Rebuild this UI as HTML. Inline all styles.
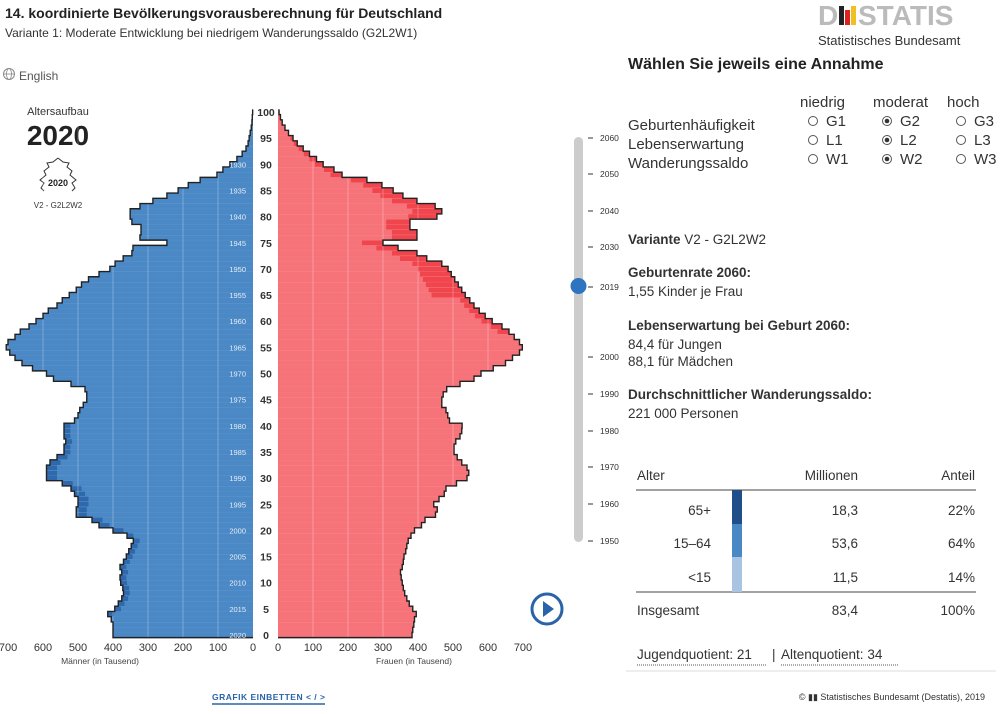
<!DOCTYPE html>
<html><head><meta charset="utf-8"><style>
body{margin:0;background:#fff;width:1000px;height:714px;overflow:hidden;font-family:"Liberation Sans",sans-serif;color:#222}
svg{position:absolute;left:0;top:0}
</style></head><body>
<svg id="s" width="1000" height="714" xmlns="http://www.w3.org/2000/svg" font-family="Liberation Sans, sans-serif">
<text x="5" y="18" font-size="14" font-weight="bold" fill="#222">14. koordinierte Bevölkerungsvorausberechnung für Deutschland</text>
<text x="5" y="37" font-size="12" fill="#333">Variante 1: Moderate Entwicklung bei niedrigem Wanderungssaldo (G2L2W1)</text>
<circle cx="9" cy="74" r="5.5" fill="none" stroke="#888" stroke-width="1"/><ellipse cx="9" cy="74" rx="2.5" ry="5.5" fill="none" stroke="#888" stroke-width="0.8"/><line x1="3.5" y1="74" x2="14.5" y2="74" stroke="#888" stroke-width="0.8"/>
<text x="19" y="80" font-size="12" fill="#555">English</text>
<text x="818" y="25" font-size="28" font-weight="bold" fill="#bbb">D</text>
<rect x="839" y="6" width="5" height="19" fill="#222"/><rect x="845" y="10" width="5" height="15" fill="#d22"/><rect x="851" y="6" width="5" height="19" fill="#f0c020"/>
<text x="858" y="25" font-size="28" font-weight="bold" fill="#bbb">STATIS</text>
<text x="818" y="45" font-size="13" fill="#333">Statistisches Bundesamt</text>
<text x="628" y="69" font-size="16" font-weight="bold" fill="#222">Wählen Sie jeweils eine Annahme</text>
<g font-size="15" fill="#333">
<text x="800" y="107">niedrig</text><text x="873" y="107">moderat</text><text x="947" y="107">hoch</text>
<text x="628" y="130">Geburtenhäufigkeit</text><text x="628" y="149">Lebenserwartung</text><text x="628" y="168">Wanderungssaldo</text>
<text x="826" y="126">G1</text><text x="900" y="126">G2</text><text x="974" y="126">G3</text>
<text x="826" y="145">L1</text><text x="900" y="145">L2</text><text x="974" y="145">L3</text>
<text x="826" y="164">W1</text><text x="900" y="164">W2</text><text x="974" y="164">W3</text>
</g>
<g fill="none" stroke="#555" stroke-width="1">
<circle cx="813" cy="121" r="4.5"/><circle cx="887" cy="121" r="4.5"/><circle cx="961" cy="121" r="4.5"/>
<circle cx="813" cy="140" r="4.5"/><circle cx="887" cy="140" r="4.5"/><circle cx="961" cy="140" r="4.5"/>
<circle cx="813" cy="159" r="4.5"/><circle cx="887" cy="159" r="4.5"/><circle cx="961" cy="159" r="4.5"/>
</g>
<circle cx="887" cy="121" r="2.3" fill="#333"/><circle cx="887" cy="140" r="2.3" fill="#333"/><circle cx="887" cy="159" r="2.3" fill="#333"/>
<g font-size="13.5" fill="#333">
<text x="628" y="244"><tspan font-weight="bold">Variante</tspan>   V2 - G2L2W2</text>
<text x="628" y="277" font-weight="bold">Geburtenrate 2060:</text><text x="628" y="296">1,55 Kinder je Frau</text>
<text x="628" y="330" font-weight="bold">Lebenserwartung bei Geburt 2060:</text><text x="628" y="349">84,4 für Jungen</text><text x="628" y="366">88,1 für Mädchen</text>
<text x="628" y="399" font-weight="bold">Durchschnittlicher Wanderungssaldo:</text><text x="628" y="418">221 000 Personen</text>
<text x="637" y="480">Alter</text><text x="858" y="480" text-anchor="end">Millionen</text><text x="975" y="480" text-anchor="end">Anteil</text>
<text x="711" y="515" text-anchor="end">65+</text><text x="858" y="515" text-anchor="end">18,3</text><text x="975" y="515" text-anchor="end">22%</text>
<text x="711" y="548" text-anchor="end">15–64</text><text x="858" y="548" text-anchor="end">53,6</text><text x="975" y="548" text-anchor="end">64%</text>
<text x="711" y="582" text-anchor="end">&lt;15</text><text x="858" y="582" text-anchor="end">11,5</text><text x="975" y="582" text-anchor="end">14%</text>
<text x="637" y="615">Insgesamt</text><text x="858" y="615" text-anchor="end">83,4</text><text x="975" y="615" text-anchor="end">100%</text>
<text x="637" y="659">Jugendquotient: 21</text><text x="772" y="659">|</text><text x="781" y="659">Altenquotient: 34</text>
</g>
<line x1="636" y1="490" x2="976" y2="490" stroke="#444" stroke-width="1"/>
<line x1="636" y1="592" x2="976" y2="592" stroke="#444" stroke-width="1"/>
<rect x="732" y="490" width="10" height="34" fill="#1f4e89"/><rect x="732" y="524" width="10" height="33" fill="#4a87c5"/><rect x="732" y="557" width="10" height="35" fill="#a9c4e2"/>
<line x1="637" y1="665" x2="767" y2="665" stroke="#555" stroke-dasharray="1,1"/><line x1="781" y1="665" x2="899" y2="665" stroke="#555" stroke-dasharray="1,1"/>
<line x1="626" y1="671" x2="996" y2="671" stroke="#ddd"/>
<text x="985" y="700" font-size="9" fill="#333" text-anchor="end">© ▮▮ Statistisches Bundesamt (Destatis), 2019</text>
<text x="212" y="700" font-size="8.5" font-weight="bold" fill="#2a63a8" letter-spacing="0.5">GRAFIK EINBETTEN &lt; / &gt;</text>
<line x1="212" y1="704" x2="325" y2="704" stroke="#2a63a8" stroke-width="1.5"/>
<circle cx="547" cy="609" r="15" fill="none" stroke="#2a63a8" stroke-width="3"/><path d="M543 601 L554 609 L543 617 Z" fill="#2a63a8"/>
<rect x="574" y="137" width="9" height="405" rx="4.5" fill="#ccc"/>
<circle cx="578.5" cy="286" r="8" fill="#2f74c0"/>
<g font-size="8.5" fill="#333" id="yrs"></g>
<text x="58" y="115" font-size="11" fill="#333" text-anchor="middle">Altersaufbau</text>
<text x="58" y="145" font-size="28" font-weight="bold" fill="#222" text-anchor="middle">2020</text>
<path d="M58 158 l-5 4 l-6 1 l2 4 l-5 4 l2 4 l-6 5 l4 3 l-3 5 l3 3 M58 158 l5 4 l6 1 l-2 4 l5 4 l-2 4 l6 5 l-4 3 l3 5 l-3 3" fill="none" stroke="#333" stroke-width="1"/>
<text x="58" y="186" font-size="9" font-weight="bold" fill="#222" text-anchor="middle">2020</text>
<text x="58" y="208" font-size="8" fill="#333" text-anchor="middle">V2 - G2L2W2</text>
<g id="chart"></g>
</svg>
<script>
var M=[400,400,400,405,415,395,385,375,370,372,378,380,375,380,370,362,355,348,342,360,400,440,460,505,505,500,500,510,520,545,590,590,590,580,560,540,540,535,540,540,540,510,500,495,485,475,475,480,520,570,590,630,660,680,695,705,700,680,665,640,620,600,585,560,545,525,505,490,470,440,409,394,371,346,343,246,323,320,320,346,351,351,323,286,246,214,185,151,103,86,66,46,31,20,14,11,8,5,3,2,1];
var F=[383,385,388,390,395,385,375,368,362,358,355,352,350,355,358,360,365,368,372,380,390,410,420,450,455,445,460,475,480,510,540,545,540,525,512,503,503,508,520,525,526,490,485,480,468,468,472,482,520,560,580,615,650,670,690,698,690,675,660,640,612,592,575,560,548,535,525,515,505,495,486,468,425,397,343,300,397,397,377,377,454,468,449,397,357,329,297,254,183,160,129,110,90,72,55,43,30,20,12,7,3];
var g=document.getElementById("chart"),h="";
var k=0.35,L0=253,R0=278,H=5.23;
function yc(a){return 635-H*a;}
for(var a=0;a<=100;a++){
 var y=yc(a)-H/2,m=M[a]*k,f=F[a]*k;
 var md=(a>=4&&a<=40)?(a>=20&&a<=34?30:18)*k:0;
 var fd=a>=65&&a<=95?F[a]*0.18*k:(a>=58&&a<65?F[a]*0.05*k:0);
 if(a==75)fd=F[a]*0.2*k;
 h+='<rect x="'+(L0-m)+'" y="'+y+'" width="'+m+'" height="'+H+'" fill="#2f69ad"/>';
 h+='<rect x="'+(L0-m+md)+'" y="'+y+'" width="'+(m-md)+'" height="'+H+'" fill="#4a88c6"/>';
 h+='<rect x="'+R0+'" y="'+y+'" width="'+f+'" height="'+H+'" fill="#f0454d"/>';
 h+='<rect x="'+R0+'" y="'+y+'" width="'+(f-fd)+'" height="'+H+'" fill="#f7737a"/>';
 h+='<line x1="'+(L0-m)+'" y1="'+y+'" x2="'+L0+'" y2="'+y+'" stroke="#fff" stroke-opacity="0.25" stroke-width="0.6"/>';
 h+='<line x1="'+R0+'" y1="'+y+'" x2="'+(R0+f)+'" y2="'+y+'" stroke="#fff" stroke-opacity="0.25" stroke-width="0.6"/>';
}
for(var v=100;v<=700;v+=100){
 h+='<line x1="'+(L0-v*k)+'" y1="110" x2="'+(L0-v*k)+'" y2="638" stroke="#fff" stroke-opacity="0.35" stroke-width="0.8"/>';
 h+='<line x1="'+(R0+v*k)+'" y1="110" x2="'+(R0+v*k)+'" y2="638" stroke="#fff" stroke-opacity="0.35" stroke-width="0.8"/>';
}
function outline(arr,x0,dir){
 var p="M"+x0+" "+(yc(0)+H/2);
 for(var a=0;a<=100;a++){var x=x0+dir*arr[a]*k;p+=" L"+x+" "+(yc(a)+H/2)+" L"+x+" "+(yc(a)-H/2);}
 return '<path d="'+p+'" fill="none" stroke="#222" stroke-width="1.4"/>';
}
h+=outline(M,L0,-1)+outline(F,R0,1);
for(var a=0;a<=100;a+=5){
 h+='<text x="266" y="'+(yc(a)+4)+'" font-size="10.5" font-weight="bold" fill="#333" text-anchor="middle">'+a+'</text>';
 if(a<=90)h+='<text x="246" y="'+(yc(a)+3)+'" font-size="7.5" fill="#fff" fill-opacity="0.85" text-anchor="end">'+(2020-a)+'</text>';
}
for(var v=0;v<=700;v+=100){
 h+='<text x="'+(L0-v*k)+'" y="651" font-size="11" fill="#333" text-anchor="middle">'+v+'</text>';
 h+='<text x="'+(R0+v*k)+'" y="651" font-size="11" fill="#333" text-anchor="middle">'+v+'</text>';
}
h+='<text x="100" y="664" font-size="8.5" fill="#444" text-anchor="middle">Männer (in Tausend)</text>';
h+='<text x="414" y="664" font-size="8.5" fill="#444" text-anchor="middle">Frauen (in Tausend)</text>';
g.innerHTML=h;
var ys=[[2060,138],[2050,174],[2040,211],[2030,247],[2019,287],[2000,357],[1990,394],[1980,431],[1970,467],[1960,504],[1950,541]],yh="";
ys.forEach(function(e){yh+='<line x1="588" y1="'+e[1]+'" x2="593" y2="'+e[1]+'" stroke="#333"/><text x="600" y="'+(e[1]+3)+'">'+e[0]+'</text>';});
document.getElementById("yrs").innerHTML=yh;
</script>
</body></html>
